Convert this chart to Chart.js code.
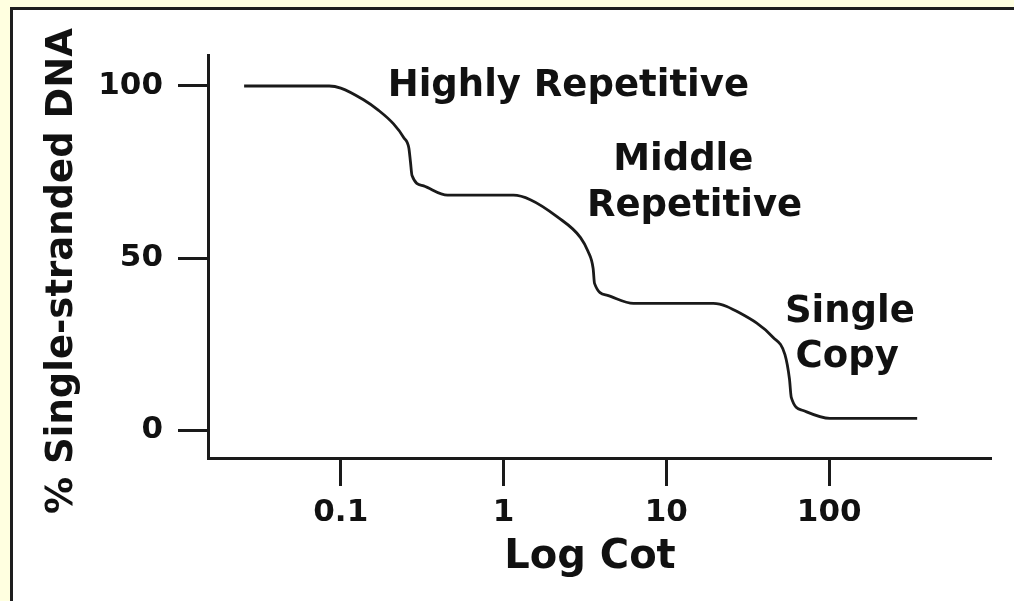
<!DOCTYPE html>
<html>
<head>
<meta charset="utf-8">
<script src="https://cdn.jsdelivr.net/npm/chart.js@4"></script>
<style>
  html, body { margin: 0; padding: 0; background: #ffffe0; overflow: hidden; }
  #frame {
    position: absolute; left: 10px; top: 7px; width: 1100px; height: 700px;
    background: #ffffff; border-left: 3px solid #1e1e1e; border-top: 3px solid #1e1e1e;
  }
  #wrap { position: absolute; left: 0; top: 0; width: 1014px; height: 601px; }
</style>
</head>
<body>
<div id="frame"></div>
<div id="wrap"><canvas id="cotChart"></canvas></div>
<script>
// Cot curve: x = Cot (log axis), y = % single-stranded
const cotValues = [
  0.0255, 0.085, 0.10, 0.138, 0.17, 0.211, 0.244, 0.262, 0.268, 0.274,
  0.323, 0.453, 1.15, 1.46, 2.14, 2.97, 3.3, 3.55, 3.62, 4.35,
  6.28, 19.4, 28.5, 45.3, 53.5, 57.0, 58.5, 69.2, 101, 347
];
const ssPercent = [
  100, 100, 99.4, 96, 93, 89, 85, 82, 78, 74,
  71, 68.3, 68.3, 67, 62, 56, 52, 47, 42.7, 39.2,
  36.9, 36.9, 34, 27, 22, 15, 9.6, 5.8, 3.5, 3.5
];

const xTicks = [0.1, 1, 10, 100];
const xTickLabels = ["0.1", "1", "10", "100"];
const yTicks = [0, 50, 100];

const xTitle = "Log Cot";
const yTitle = "% Single-stranded DNA";

const regionLabels = ["Highly Repetitive", "Middle", "Repetitive", "Single", "Copy"];
// anchor of each label, in data units (Cot, %)
const regionAnchors = [[2.5, 100], [12.7, 78.5], [14.9, 65], [134, 34.3], [129, 21.2]];

const FONT = '"DejaVu Sans", "Liberation Sans", Arial, sans-serif';
const INK = "#111111";

const points = cotValues.map((c, i) => ({ x: c, y: ssPercent[i] }));

const chartText = {
  id: "chartText",
  afterDraw(chart) {
    const { ctx, scales } = chart;
    ctx.save();
    ctx.fillStyle = INK;
    ctx.textAlign = "center";
    ctx.textBaseline = "middle";

    ctx.font = `bold 37px ${FONT}`;
    regionLabels.forEach((t, i) => {
      const [cx, cy] = regionAnchors[i];
      ctx.fillText(t, scales.x.getPixelForValue(cx), scales.y.getPixelForValue(cy));
    });

    // axis titles
    ctx.font = `bold 40px ${FONT}`;
    ctx.fillText(xTitle, 590, 558);

    ctx.font = `bold 37px ${FONT}`;
    ctx.translate(62, 271);
    ctx.rotate(-Math.PI / 2);
    ctx.fillText(yTitle, 0, 0);
    ctx.restore();
  },
};

const ctx = document.getElementById("cotChart");

new Chart(ctx, {
  type: "scatter",
  data: {
    datasets: [
      {
        data: points,
        showLine: true,
        pointRadius: 0,
        borderColor: "#1a1a1a",
        borderWidth: 2.8,
        cubicInterpolationMode: "monotone",
        fill: false,
      },
    ],
  },
  options: {
    responsive: true,
    maintainAspectRatio: false,
    animation: false,
    devicePixelRatio: 1,
    layout: { padding: { top: 55, right: 23, left: 0, bottom: 0 } },
    plugins: { legend: { display: false }, tooltip: { enabled: false } },
    scales: {
      x: {
        type: "logarithmic",
        min: 0.0153,
        max: 986,
        afterBuildTicks: (s) => { s.ticks = xTicks.map((v) => ({ value: v })); },
        afterFit: (s) => { s.height = 143; },
        border: { display: true, color: "#1a1a1a", width: 3 },
        grid: { drawOnChartArea: false, drawTicks: true, tickLength: 28, tickWidth: 3, tickColor: "#1a1a1a" },
        ticks: {
          autoSkip: false,
          maxRotation: 0,
          padding: 8,
          color: INK,
          font: { family: FONT, size: 31, weight: "bold" },
          callback: (v) => { const i = xTicks.indexOf(v); return i >= 0 ? xTickLabels[i] : ""; },
        },
        title: { display: false },
      },
      y: {
        min: -8,
        max: 109,
        afterBuildTicks: (s) => { s.ticks = yTicks.map((v) => ({ value: v })); },
        afterFit: (s) => { s.width = 208; },
        border: { display: true, color: "#1a1a1a", width: 3 },
        grid: { drawOnChartArea: false, drawTicks: true, tickLength: 30, tickWidth: 3, tickColor: "#1a1a1a" },
        ticks: {
          padding: 15,
          color: INK,
          font: { family: FONT, size: 31, weight: "bold" },
        },
        title: { display: false },
      },
    },
  },
  plugins: [chartText],
});
</script>
</body>
</html>
